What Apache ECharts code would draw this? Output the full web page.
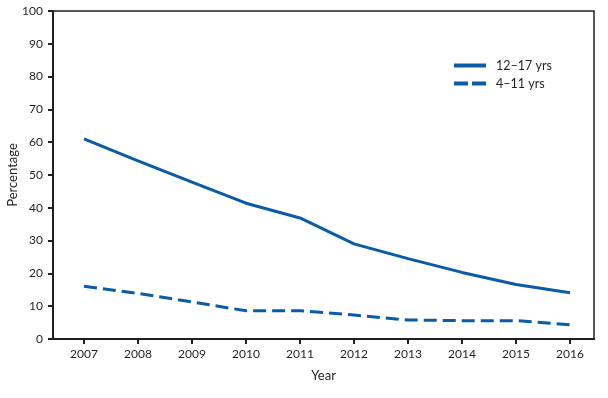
<!DOCTYPE html>
<html>
<head>
<meta charset="utf-8">
<script src="https://cdn.jsdelivr.net/npm/echarts@6/dist/echarts.min.js"></script>
<style>
html,body{margin:0;padding:0;background:#fff;}
#chart{width:608px;height:398px;}
</style>
</head>
<body>
<div id="chart"></div>
<script>
const years = [2007, 2008, 2009, 2010, 2011, 2012, 2013, 2014, 2015, 2016];
const teens = [61.0, 54.3, 47.8, 41.4, 36.9, 29.0, 24.5, 20.3, 16.6, 14.1];
const children = [16.1, 13.9, 11.3, 8.6, 8.6, 7.3, 5.8, 5.6, 5.6, 4.3];
const seriesNames = ['12\u201317 yrs', '4\u201311 yrs'];
const yTicks = [0, 10, 20, 30, 40, 50, 60, 70, 80, 90, 100];

const blue = '#0a5ba8';
const ink = '#231f20';
const font = 'Lato';

const chart = echarts.init(document.getElementById('chart'), null, {renderer: 'canvas'});
chart.setOption({
  animation: false,
  backgroundColor: '#fff',
  textStyle: {fontFamily: font, color: ink},
  grid: {left: 53, top: 11, right: 14, bottom: 59, show: true, borderColor: ink, borderWidth: 1.5,
         containLabel: false, outerBoundsMode: 'none'},
  legend: {
    orient: 'vertical',
    left: 447, top: 54,
    itemWidth: 32, itemHeight: 14, itemGap: 5,
    itemStyle: {color: 'transparent', borderColor: 'transparent', borderWidth: 0, opacity: 0},
    textStyle: {fontFamily: font, fontSize: 12.5, color: ink, padding: [0, 0, 0, 5]},
    data: [
      {name: seriesNames[0], lineStyle: {width: 4}},
      {name: seriesNames[1], lineStyle: {width: 4, type: [14, 4]}}
    ]
  },
  xAxis: {
    type: 'value',
    min: 2006.426, max: 2016.444,
    name: 'Year', nameLocation: 'middle', nameGap: 30,
    nameTextStyle: {fontFamily: font, fontSize: 13, color: ink},
    axisLine: {show: true, lineStyle: {color: ink, width: 2}},
    axisTick: {show: true, length: 5, inside: false, lineStyle: {color: ink, width: 2}, customValues: years},
    axisLabel: {fontFamily: font, fontSize: 12, color: ink, margin: 9, customValues: years, formatter: v => String(v)},
    splitLine: {show: false}
  },
  yAxis: {
    type: 'value',
    min: 0, max: 100, interval: 10,
    name: 'Percentage', nameLocation: 'middle', nameGap: 34, nameMoveOverlap: false,
    nameTextStyle: {fontFamily: font, fontSize: 13, color: ink},
    axisLine: {show: true, lineStyle: {color: ink, width: 2}},
    axisTick: {show: true, length: 5, lineStyle: {color: ink, width: 2}},
    axisLabel: {fontFamily: font, fontSize: 12, color: ink, margin: 10, customValues: yTicks},
    splitLine: {show: false}
  },
  series: [
    {
      name: seriesNames[0], type: 'line', symbol: 'none',
      data: years.map((y, i) => [y, teens[i]]),
      lineStyle: {color: blue, width: 3},
      itemStyle: {color: blue}
    },
    {
      name: seriesNames[1], type: 'line', symbol: 'none',
      data: years.map((y, i) => [y, children[i]]),
      lineStyle: {color: blue, width: 3, type: [13, 6]},
      itemStyle: {color: blue}
    }
  ]
});
</script>
</body>
</html>
